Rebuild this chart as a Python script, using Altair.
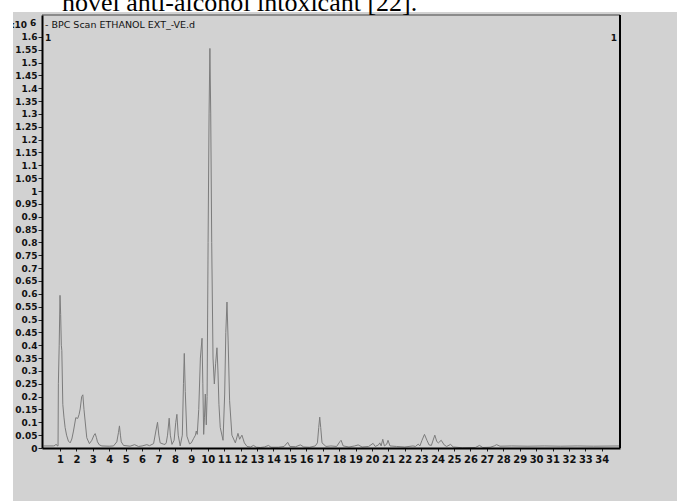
import altair as alt
import pandas as pd

# Base peak chromatogram (BPC), negative-ion scan of the ethanol extract.
# Retention time in minutes, intensity in units of 10^6 counts.
time_min = [
    0.0, 0.6, 0.7, 0.76, 0.82, 0.88, 0.90, 0.95, 1.00, 1.04, 1.08, 1.11, 1.17, 1.24,
    1.31, 1.40, 1.51, 1.62, 1.72, 1.82, 1.96, 2.08, 2.16, 2.23, 2.32, 2.39, 2.46, 2.53,
    2.63, 2.79, 2.94, 3.07, 3.14, 3.22, 3.28, 3.40, 3.55, 4.00, 4.26, 4.46, 4.56, 4.62,
    4.68, 4.73, 4.87, 5.27, 5.54, 5.78, 6.00, 6.29, 6.45, 6.70, 6.85, 6.94, 7.02, 7.10,
    7.30, 7.40, 7.47, 7.55, 7.65, 7.72, 7.82, 7.95, 8.05, 8.12, 8.20, 8.32, 8.45, 8.52,
    8.57, 8.63, 8.73, 8.89, 9.00, 9.13, 9.25, 9.30, 9.36, 9.45, 9.55, 9.65, 9.70, 9.75,
    9.80, 9.85, 9.91, 9.96, 10.02, 10.08, 10.13, 10.18, 10.24, 10.32, 10.40, 10.48,
    10.56, 10.62, 10.68, 10.76, 10.93, 11.03, 11.10, 11.17, 11.24, 11.33, 11.47, 11.68,
    11.84, 11.94, 12.08, 12.23, 12.39, 12.60, 12.79, 12.95, 13.20, 13.45, 13.70, 13.85,
    14.30, 14.65, 14.87, 15.00, 15.35, 15.64, 15.85, 16.20, 16.55, 16.68, 16.76, 16.82,
    16.88, 16.96, 17.20, 17.50, 17.85, 18.05, 18.12, 18.25, 18.60, 18.95, 19.16, 19.40,
    19.80, 20.07, 20.20, 20.40, 20.48, 20.56, 20.66, 20.76, 20.90, 20.98, 21.10, 21.50,
    22.00, 22.50, 22.65, 22.82, 22.92, 23.05, 23.20, 23.35, 23.48, 23.62, 23.75, 23.83,
    23.95, 24.05, 24.22, 24.40, 24.55, 24.79, 24.95, 25.50, 26.30, 26.55, 26.75, 27.20,
    27.45, 27.59, 27.80, 28.50, 29.50, 30.50, 31.50, 32.50, 33.50, 35.10,
]
intensity = [
    0.008, 0.008, 0.010, 0.015, 0.009, 0.008, 0.25, 0.40, 0.594, 0.52, 0.40, 0.38, 0.17, 0.12,
    0.08, 0.05, 0.027, 0.020, 0.035, 0.066, 0.118, 0.115, 0.13, 0.152, 0.20, 0.207, 0.15, 0.105,
    0.04, 0.017, 0.03, 0.05, 0.056, 0.04, 0.024, 0.012, 0.008, 0.007, 0.008, 0.024, 0.06, 0.086,
    0.05, 0.024, 0.010, 0.007, 0.013, 0.006, 0.008, 0.013, 0.009, 0.017, 0.07, 0.10, 0.05, 0.02,
    0.015, 0.014, 0.02, 0.05, 0.116, 0.05, 0.014, 0.03, 0.10, 0.131, 0.05, 0.008, 0.05, 0.25,
    0.368, 0.22, 0.046, 0.016, 0.02, 0.036, 0.05, 0.066, 0.053, 0.15, 0.35, 0.427, 0.25, 0.053,
    0.12, 0.21, 0.09, 0.20, 0.80, 1.30, 1.555, 1.30, 0.80, 0.35, 0.249, 0.33,
    0.39, 0.30, 0.17, 0.08, 0.03, 0.21, 0.45, 0.568, 0.42, 0.184, 0.05, 0.02,
    0.057, 0.034, 0.05, 0.02, 0.006, 0.004, 0.010, 0.003, 0.002, 0.004, 0.010, 0.003,
    0.003, 0.006, 0.022, 0.006, 0.005, 0.012, 0.004, 0.003, 0.008, 0.02, 0.08, 0.12,
    0.08, 0.02, 0.006, 0.008, 0.006, 0.025, 0.03, 0.008, 0.004, 0.008, 0.012, 0.004,
    0.006, 0.018, 0.006, 0.012, 0.02, 0.008, 0.034, 0.008, 0.015, 0.03, 0.008, 0.006,
    0.004, 0.008, 0.006, 0.015, 0.008, 0.03, 0.053, 0.03, 0.012, 0.010, 0.035, 0.05,
    0.025, 0.02, 0.03, 0.012, 0.006, 0.014, 0.004, 0.001, 0.002, 0.010, 0.002, 0.003,
    0.008, 0.013, 0.007, 0.008, 0.007, 0.008, 0.007, 0.008, 0.007, 0.008,
]

x_ticks = list(range(1, 35))
y_ticks = [0, 0.05, 0.1, 0.15, 0.2, 0.25, 0.3, 0.35, 0.4, 0.45, 0.5, 0.55, 0.6, 0.65,
           0.7, 0.75, 0.8, 0.85, 0.9, 0.95, 1, 1.05, 1.1, 1.15, 1.2, 1.25, 1.3, 1.35,
           1.4, 1.45, 1.5, 1.55, 1.6]

caption = "novel anti-alcohol intoxicant [22]."
trace_name = "- BPC Scan ETHANOL EXT_-VE.d"

W, H = 578, 433
PAD_L, PAD_T = 42, 15
BG = "#d2d2d2"
FONT = "DejaVu Sans"

df = pd.DataFrame({"t": time_min, "v": intensity})
one = pd.DataFrame({"k": [0]})

x_scale = alt.Scale(domain=[-0.097, 35.11], nice=False, zero=False)
y_scale = alt.Scale(domain=[0, 1.685], nice=False)

# grey panel behind the plot
panel = alt.Chart(one).mark_rect(color=BG).encode(
    x=alt.value(13 - PAD_L), x2=alt.value(677 - PAD_L),
    y=alt.value(12 - PAD_T), y2=alt.value(501 - PAD_T),
)

trace = alt.Chart(df).mark_line(color="#7c7c7c", strokeWidth=1, interpolate="linear").encode(
    x=alt.X("t:Q", scale=x_scale,
            axis=alt.Axis(values=x_ticks, title=None, format="d", grid=False,
                          domainColor="#000", domainWidth=2, tickColor="#222",
                          tickSize=3, labelPadding=3, labelFont=FONT, labelFontSize=10,
                          labelFontWeight="bold", labelColor="#111", zindex=1)),
    y=alt.Y("v:Q", scale=y_scale,
            axis=alt.Axis(values=y_ticks, title=None, format="~g", grid=False,
                          domainColor="#000", domainWidth=2, tickColor="#222",
                          tickSize=4, labelPadding=1, labelFont=FONT, labelFontSize=9,
                          labelFontWeight="bold", labelColor="#111", zindex=1)),
)

# frame: thin top edge, heavy right edge
top_edge = alt.Chart(one).mark_rule(color="#444", strokeWidth=1).encode(
    x=alt.value(0), x2=alt.value(W), y=alt.value(0))
right_edge = alt.Chart(one).mark_rule(color="#000", strokeWidth=2).encode(
    x=alt.value(W), y=alt.value(0), y2=alt.value(H))

def label(text, x, y, size, align="left", weight="normal", font=FONT, color="#111"):
    return alt.Chart(one).mark_text(
        text=text, align=align, baseline="alphabetic", font=font, fontSize=size,
        fontWeight=weight, color=color,
    ).encode(x=alt.value(x), y=alt.value(y))

name_lbl = label(trace_name, 3, 13, 9.5)
scale_lbl = label("x10", -15, 13, 9, align="right", weight="bold")
exp_lbl = label("6", -12, 11, 9, weight="bold")
one_left = label("1", 3, 26, 9, weight="bold")
one_right = label("1", W - 3, 26, 9, align="right", weight="bold")

# white margin strip on the far left
left_strip = alt.Chart(one).mark_rect(color="white").encode(
    x=alt.value(-PAD_L), x2=alt.value(13 - PAD_L),
    y=alt.value(-PAD_T), y2=alt.value(501 - PAD_T),
)

caption_lbl = label(caption, 62 - PAD_L, 10.5 - PAD_T, 26, font="Liberation Serif", color="#000")

chart = alt.layer(
    panel, trace, top_edge, right_edge, name_lbl, scale_lbl, exp_lbl,
    one_left, one_right, left_strip, caption_lbl,
).properties(
    width=W, height=H,
    autosize=alt.AutoSizeParams(type="none"),
    padding={"left": PAD_L, "top": PAD_T, "right": 677 - PAD_L - W, "bottom": 501 - PAD_T - H},
    background="white",
).configure_view(strokeWidth=0)

chart.save("out.html", embed_options={"renderer": "svg", "actions": False})
